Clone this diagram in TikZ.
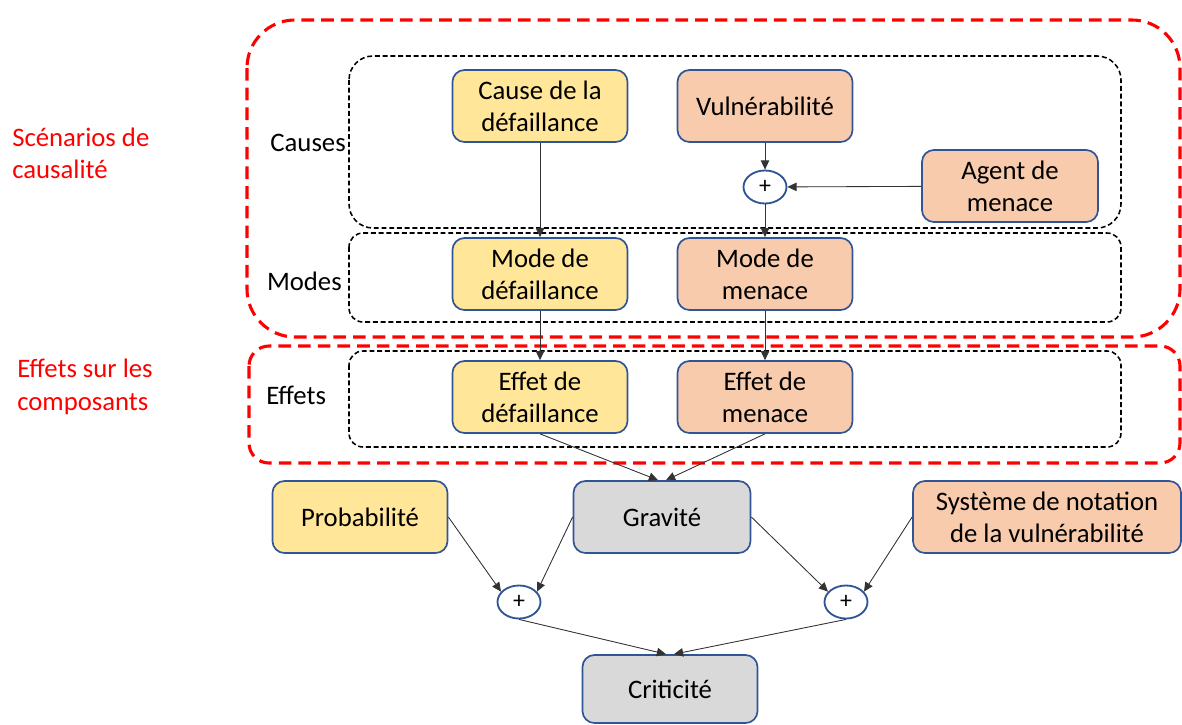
\documentclass[tikz,border=0pt]{standalone}
\usepackage{fontspec}
\setmainfont{Carlito}
\usepackage{tikz}
\usetikzlibrary{arrows.meta,shapes.geometric}

\definecolor{boxblue}{RGB}{47,85,151}
\definecolor{boxyellow}{RGB}{255,230,153}
\definecolor{boxorange}{RGB}{248,203,173}
\definecolor{boxgrey}{RGB}{217,217,217}

\tikzset{
  box/.style={draw=boxblue, line width=1.2pt, rounded corners=0.3cm,
    minimum width=4.375cm, minimum height=1.8cm, align=center,
    inner sep=2pt, font=\fontsize{19}{23}\selectfont},
  yellowbox/.style={box, fill=boxyellow},
  orangebox/.style={box, fill=boxorange},
  greybox/.style={box, fill=boxgrey},
  plusnode/.style={ellipse, draw=boxblue, line width=1.3pt, fill=white,
    minimum width=1.075cm, minimum height=0.825cm, inner sep=0pt,
    font=\fontsize{17}{17}\selectfont},
  arr/.style={-{Triangle[length=6.5pt,width=6pt]}, line width=0.6pt, draw=black!80, fill=black!80},
  redzone/.style={draw=red, line width=2.2pt, dash pattern=on 9pt off 5pt},
  blackzone/.style={draw=black, line width=1.1pt, dash pattern=on 3.5pt off 2pt},
  lbl/.style={inner sep=0pt, font=\fontsize{19}{23}\selectfont}
}

\begin{document}
\begin{tikzpicture}[x=0.025cm, y=-0.025cm]

          \useasboundingbox (0,0) rectangle (1182,724);

          % Red zones
          \draw[redzone, rounded corners=1.2cm] (247,20) rectangle (1180,337);
          \draw[redzone, rounded corners=0.5cm] (249,346) rectangle (1180,463);
          \node[lbl, red, align=left, anchor=west] (scen) at (12,153) {Scénarios de\\causalité};
          \node[lbl, red, align=left, anchor=west] (effcomp) at (17,387) {Effets sur les\\composants};

          % Black zones with their labels
          \draw[blackzone, rounded corners=0.6cm] (349,56) rectangle (1121,228);
          \draw[blackzone, rounded corners=0.35cm] (349,233) rectangle (1121,322);
          \draw[blackzone, rounded corners=0.35cm] (349,351) rectangle (1121,447);
          \node[lbl, anchor=base east] (causes) at (346,151) {Causes};
          \node[lbl, anchor=base east] (modes) at (342,290) {Modes};
          \node[lbl, anchor=base west] (effets) at (266,404) {Effets};

          % Causes
          \node[yellowbox] (cause) at (540,106) {Cause de la\\défaillance};
          \node[orangebox] (vuln) at (765,106) {Vulnérabilité};
          \node[plusnode] (p1) at (765,187) {+};
          \node[orangebox, minimum width=4.4cm] (agent) at (1010,186) {Agent de\\menace};

          % Modes and effects
          \node[yellowbox] (modedef) at (540,274) {Mode de\\défaillance};
          \node[orangebox] (modemen) at (765,274) {Mode de\\menace};
          \node[yellowbox] (effdef) at (540,397) {Effet de\\défaillance};
          \node[orangebox] (effmen) at (765,397) {Effet de\\menace};

          % Lower part
          \node[yellowbox] (proba) at (360,517) {Probabilité};
          \node[greybox, minimum width=4.425cm] (grav) at (662,517) {Gravité};
          \node[orangebox, minimum width=6.7cm] (cvss) at (1047,517) {Système de notation\\de la vulnérabilité};
          \node[plusnode] (p2) at (519,602) {+};
          \node[plusnode] (p3) at (846,602) {+};
          \node[greybox, minimum height=1.7cm] (crit) at (670,689) {Criticité};

          % Arrows
          \draw[arr] (cause) -- (modedef);
          \draw[arr] (vuln) -- (p1);
          \draw[arr] (agent) -- (p1);
          \draw[arr] (p1) -- (modemen);
          \draw[arr] (modedef) -- (effdef);
          \draw[arr] (modemen) -- (effmen);
          \draw[arr] (effdef.south) -- ([xshift=-0.1cm]grav.north);
          \draw[arr] (effmen.south) -- ([xshift=0.1cm]grav.north);
          \draw[arr] (proba.east) -- (p2.150);
          \draw[arr] (grav.west) -- (p2.30);
          \draw[arr] (grav.east) -- (p3.150);
          \draw[arr] (cvss.west) -- (p3.30);
          \draw[arr] (p2.south) -- ([xshift=-0.1cm]crit.north);
          \draw[arr] (p3.south) -- ([xshift=0.1cm]crit.north);

      \end{tikzpicture}
\end{document}
